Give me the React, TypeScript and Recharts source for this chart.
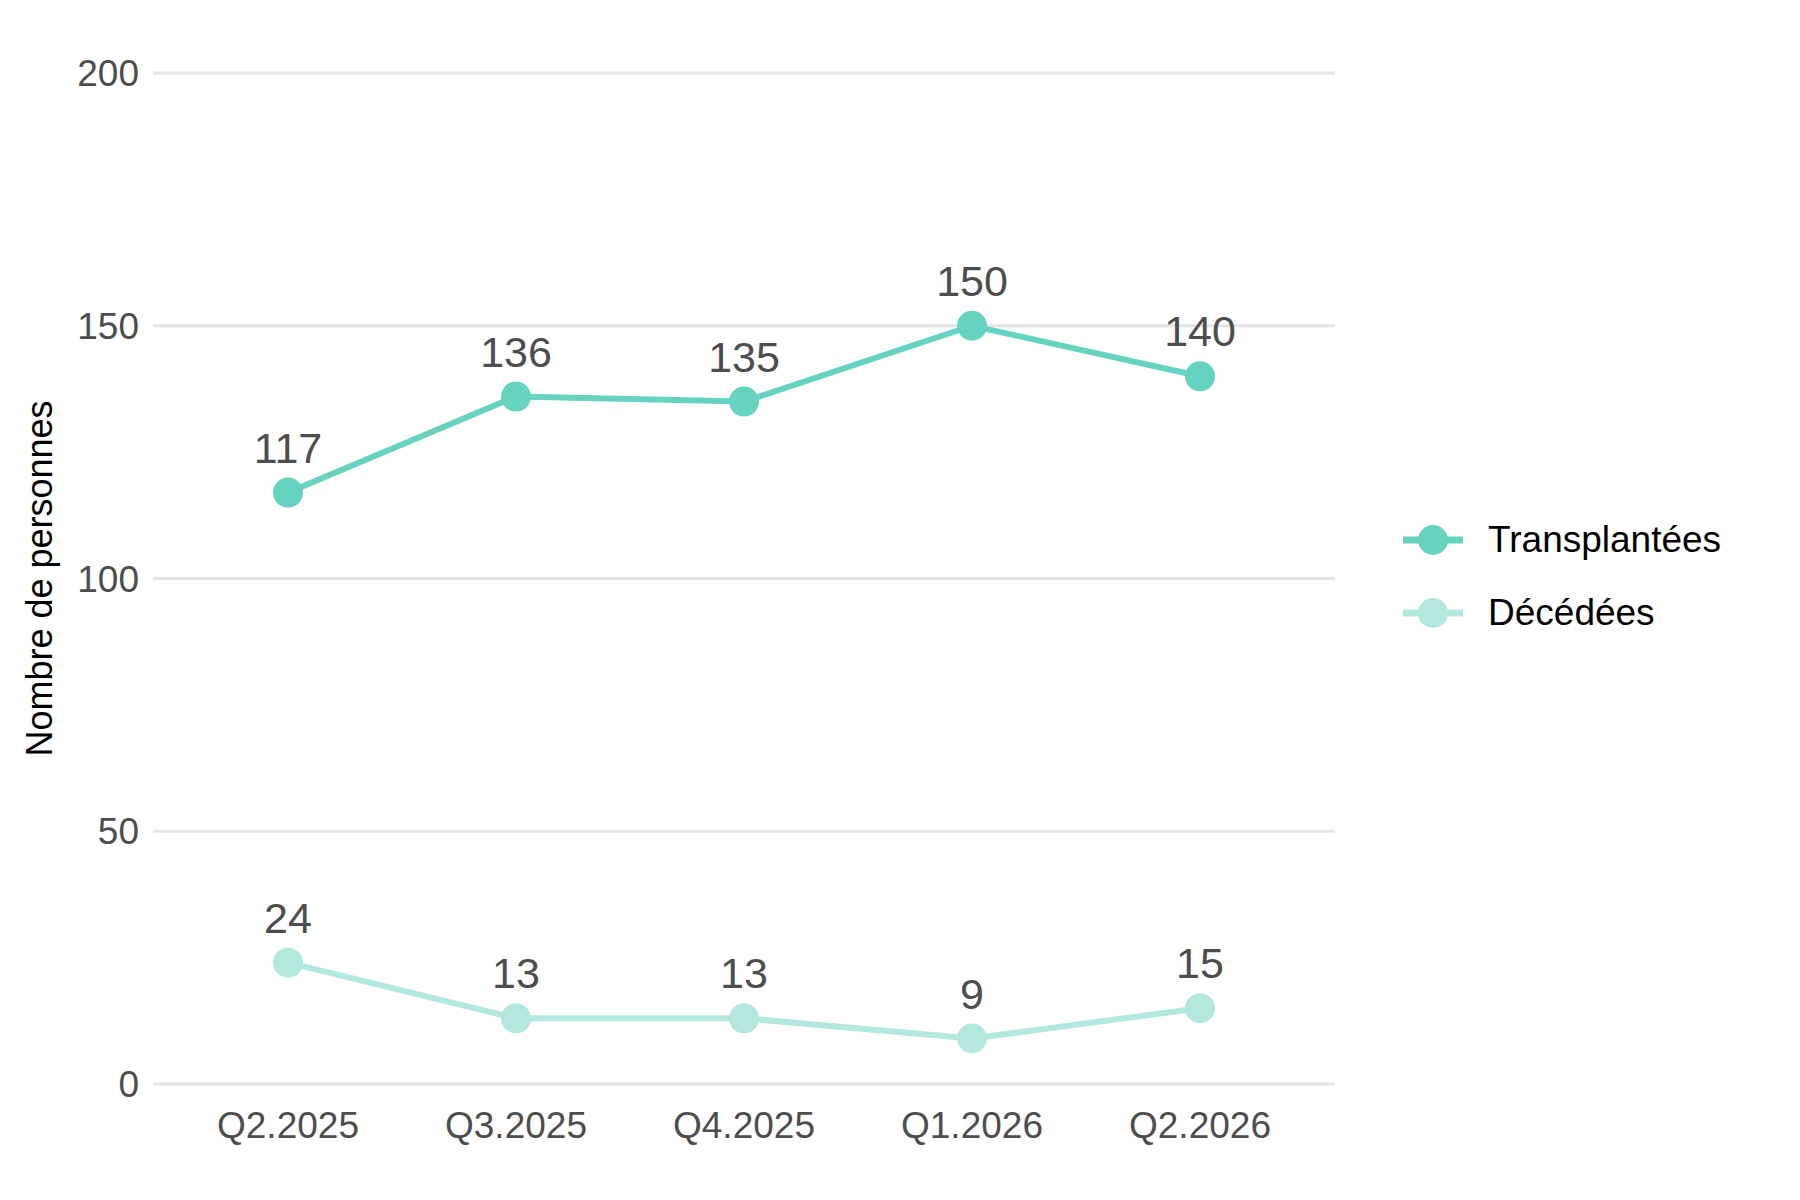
import { LineChart, Line, XAxis, YAxis, CartesianGrid, Legend, LabelList } from 'recharts';

const quarters = ['Q2.2025', 'Q3.2025', 'Q4.2025', 'Q1.2026', 'Q2.2026'];
const transplantees = [117, 136, 135, 150, 140];
const decedees = [24, 13, 13, 9, 15];
const yTicks = [0, 50, 100, 150, 200];

const series = [
    { key: 'transplantees', name: 'Transplantées', color: '#66d2c0' },
    { key: 'decedees', name: 'Décédées', color: '#b3e8df' },
];

const data = quarters.map((q, i) => ({ q, transplantees: transplantees[i], decedees: decedees[i] }));

const FONT = 'Arial, "Liberation Sans", sans-serif';

function LegendBox() {
    return (
        <div style={{ fontFamily: FONT, fontSize: 37, color: '#000', transform: 'translateY(-24px)' }}>
            {series.map((s) => (
                <div key={s.key} style={{ display: 'flex', alignItems: 'center', height: 73 }}>
                    <svg width={60} height={40}>
                        <line x1={0} y1={20} x2={60} y2={20} stroke={s.color} strokeWidth={7} />
                        <circle cx={30} cy={20} r={15} fill={s.color} />
                    </svg>
                    <span style={{ marginLft: 0, marginLeft: 25 }}>{s.name}</span>
                </div>
            ))}
        </div>
    );
}

export default function App() {
    return (
        <div style={{ margin: -8, width: 1800, height: 1200, background: '#fff' }}>
            <LineChart width={1800} height={1200} data={data} margin={{ top: 73, right: 105, bottom: 46, left: 43 }}>
                <CartesianGrid vertical={false} stroke="#e5e5e5" strokeWidth={3} />
                <XAxis
                    dataKey="q"
                    axisLine={false}
                    tickLine={false}
                    height={70}
                    padding={{ left: 135, right: 135 }}
                    tick={{ fill: '#4d4d4d', fontSize: 37, fontFamily: FONT }}
                    tickMargin={22}
                />
                <YAxis
                    domain={[0, 200]}
                    ticks={yTicks}
                    axisLine={false}
                    tickLine={false}
                    width={110}
                    tick={{ fill: '#4d4d4d', fontSize: 37, fontFamily: FONT }}
                    tickMargin={8}
                    label={{
                        value: 'Nombre de personnes',
                        angle: -90,
                        position: 'insideLeft',
                        offset: 0,
                        style: { textAnchor: 'middle', fontSize: 36, fontFamily: FONT, fill: '#000' },
                        dx: -4,
                    }}
                />
                <Legend layout="vertical" align="right" verticalAlign="middle" content={() => <LegendBox />} wrapperStyle={{ right: 37, width: 360 }} />
                {series.map((s) => (
                    <Line
                        key={s.key}
                        dataKey={s.key}
                        name={s.name}
                        stroke={s.color}
                        strokeWidth={6}
                        dot={{ r: 15, fill: s.color, stroke: 'none' }}
                        activeDot={false}
                        isAnimationActive={false}
                    >
                        <LabelList dataKey={s.key} position="top" offset={30} style={{ fill: '#4d4d4d', fontSize: 43, fontFamily: FONT }} />
                    </Line>
                ))}
            </LineChart>
        </div>
    );
}
